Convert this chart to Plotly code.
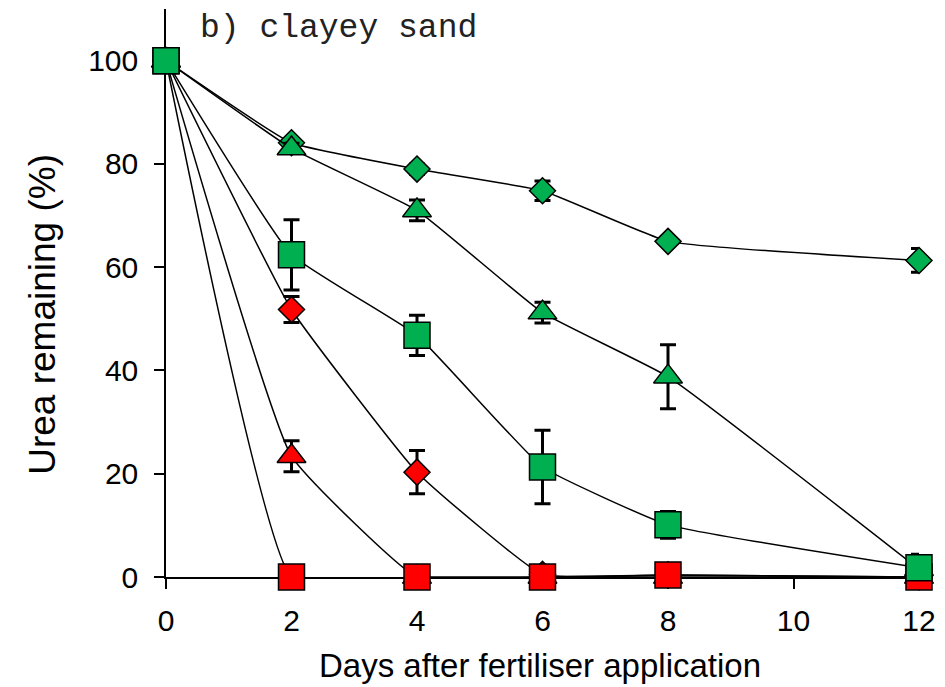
import plotly.graph_objects as go

days = [0, 2, 4, 6, 8, 12]

# Urea remaining (%) per treatment
green_diamond = [100, 84.1, 79.0, 74.8, 65.0, 61.3]
green_diamond_err = [0, 0.8, 1.0, 1.9, 0.8, 2.3]
green_triangle = [100, 83.0, 71.0, 51.2, 38.8, 1.5]
green_triangle_err = [0, 1.0, 2.0, 2.0, 6.2, 0.5]
green_square = [100, 62.4, 46.8, 21.3, 10.1, 1.8]
green_square_err = [0, 6.8, 3.9, 7.1, 2.6, 2.6]

red_diamond = [100, 51.8, 20.3, 0.5, 0.4, 0]
red_diamond_err = [0, 2.5, 4.2, 0.6, 0.3, 0]
red_triangle = [100, 23.4, 0, 0, 0, 0]
red_triangle_err = [0, 3.0, 0.3, 0, 0, 0]
red_square = [100, 0, 0, 0, 0.4, 0]
red_square_err = [0, 0, 0, 0, 0.4, 0]

x_ticks = [0, 2, 4, 6, 8, 10, 12]
y_ticks = [0, 20, 40, 60, 80, 100]

GREEN = "#00B050"
RED = "#FF0000"

series = [
    (red_diamond, red_diamond_err, "diamond", 20, RED),
    (red_triangle, red_triangle_err, "triangle-up", 25, RED),
    (red_square, red_square_err, "square", 26, RED),
    (green_diamond, green_diamond_err, "diamond", 20, GREEN),
    (green_triangle, green_triangle_err, "triangle-up", 25, GREEN),
    (green_square, green_square_err, "square", 26, GREEN),
]

fig = go.Figure()
for vals, errs, sym, size, col in series:
    fig.add_trace(go.Scatter(
        x=days, y=vals, mode="lines+markers",
        line=dict(color="black", width=1.5, shape="spline", smoothing=0.35),
        marker=dict(symbol=sym, size=size, color=col,
                    line=dict(color="black", width=1.5)),
        error_y=dict(type="data", array=errs, visible=True,
                     color="black", thickness=3, width=8),
        cliponaxis=False, showlegend=False,
    ))

axis_font = dict(family="Liberation Sans, Arial, sans-serif", size=30, color="black")

fig.update_layout(
    width=945, height=687,
    margin=dict(l=166, r=26, t=9, b=110),
    paper_bgcolor="white", plot_bgcolor="white",
    xaxis=dict(
        range=[0, 12], tickvals=x_ticks, ticks="outside", ticklen=10,
        tickwidth=1.5, tickcolor="black", showline=True, linecolor="black",
        linewidth=1.5, showgrid=False, zeroline=False, tickfont=axis_font,
        layer="below traces", ticklabelstandoff=6,
    ),
    yaxis=dict(
        range=[0, 110], tickvals=y_ticks, ticks="outside", ticklen=10,
        tickwidth=1.5, tickcolor="black", showline=True, linecolor="black",
        linewidth=1.5, showgrid=False, zeroline=False, tickfont=axis_font,
        layer="below traces", ticklabelstandoff=10,
    ),
    annotations=[
        dict(text="b) clayey sand", xref="paper", yref="paper",
             x=0.0425, y=0.9665, xanchor="left", yanchor="middle",
             showarrow=False,
             font=dict(family="Liberation Mono, Courier New, monospace",
                       size=33, color="#222222")),
        dict(text="Days after fertiliser application", xref="paper", yref="paper",
             x=0.497, y=-0.155, xanchor="center", yanchor="middle",
             showarrow=False,
             font=dict(family="Liberation Sans, Arial, sans-serif", size=33, color="black")),
        dict(text="Urea remaining (%)", xref="paper", yref="paper",
             x=-0.165, y=0.463, xanchor="center", yanchor="middle",
             textangle=-90, showarrow=False,
             font=dict(family="Liberation Sans, Arial, sans-serif", size=37, color="black")),
    ],
)

fig.write_html("out.html")
